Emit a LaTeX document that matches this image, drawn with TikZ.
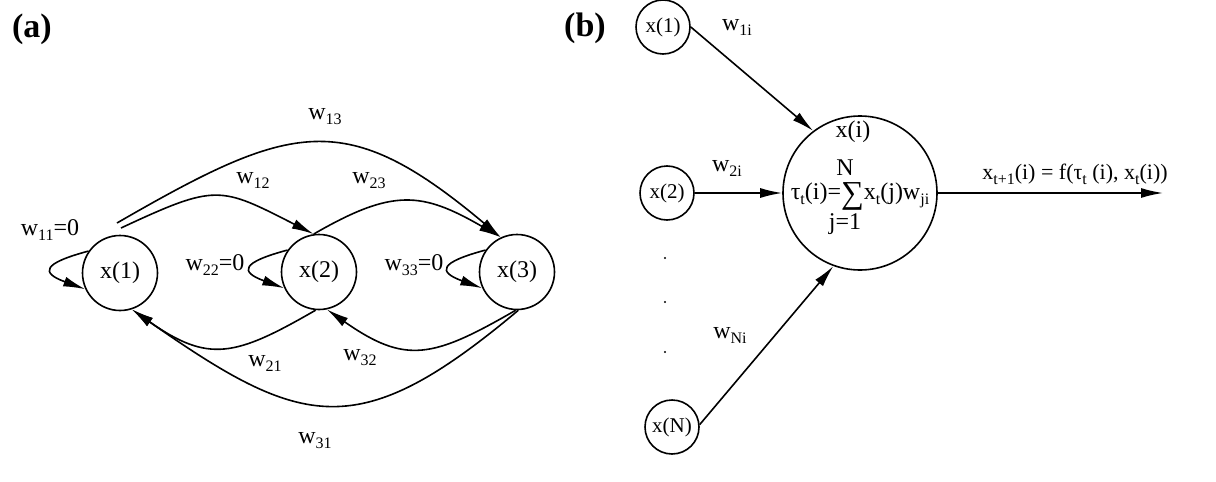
\documentclass[12pt,tikz,border=0pt]{standalone}
\usepackage{fontspec}
\setmainfont{Liberation Serif}
\usetikzlibrary{arrows.meta}
\newcommand{\lowsub}[1]{\raisebox{-2.5pt}{\scriptsize #1}}
\newcommand{\wlab}[1]{w\lowsub{#1}}

\begin{document}
\begin{tikzpicture}[x=0.5pt,y=0.5pt]
\tikzset{every node/.style={font=\fontsize{12}{14}\selectfont},
  unit/.style={draw, circle, line width=0.8pt, minimum size=37.5pt, inner sep=0pt},
  inunit/.style={draw, circle, line width=0.8pt, minimum size=27pt, inner sep=0pt,
    font=\fontsize{10.5}{12}\selectfont},
  bigunit/.style={draw, circle, line width=0.8pt, minimum size=77pt, inner sep=0pt},
  wire/.style={line width=0.8pt, -{Latex[length=11pt,width=5pt]}},
  panel/.style={font=\fontsize{17}{19}\selectfont\bfseries}}
\useasboundingbox (0,0) rectangle (1216,-482);
% (a) fully connected net
\node[panel] (pa) at (32,-29) {(a)};
\node[unit] (n1) at (120,-273) {x(1)};
\node[unit] (n2) at (319,-272) {x(2)};
\node[unit] (n3) at (517,-272) {x(3)};
\coordinate (s13) at (117,-223);
\coordinate (s12) at (121,-228);
\draw[wire] (s13) to[out=30,in=140,looseness=1.35] (n3.115);
\draw[wire] (s12) to[out=25,in=153,looseness=1.4] (n2.98);
\draw[wire] (n2.98) to[out=30,in=150,looseness=1.25] (n3.115);
\draw[wire] (n2.265) to[out=210,in=-35,looseness=1.3] (n1.-72);
\draw[wire] (n3.268) to[out=210,in=-35,looseness=1.3] (n2.-78);
\draw[wire] (n3.272) to[out=220,in=-35,looseness=1.38] (n1.-72);
\foreach \n in {n1,n2,n3}
  \draw[wire] (\n.145) .. controls +(195:48) and +(160:48) .. (\n.205);
\node (w11) at (50,-230) {\wlab{11}=0};
\node (w22) at (215,-265) {\wlab{22}=0};
\node (w33) at (414,-265) {\wlab{33}=0};
\node (w12) at (253,-180) {\wlab{12}};
\node (w13) at (325,-117) {\wlab{13}};
\node (w23) at (369,-181) {\wlab{23}};
\node (w21) at (265,-363) {\wlab{21}};
\node (w32) at (360,-358) {\wlab{32}};
\node (w31) at (315,-441) {\wlab{31}};
% (b) single unit
\node[panel] (pb) at (585,-28) {(b)};
\node[inunit] (i1) at (663,-27) {x(1)};
\node[inunit] (i2) at (667,-193) {x(2)};
\node[inunit] (iN) at (672,-427) {x(N)};
\node[bigunit] (xi) at (860,-193) {};
\node (xil) at (853,-132) {x(i)};
\node (ntop) at (845,-168) {N};
\node (tau) at (860,-196) {τ\lowsub{t}(i)=\raisebox{-2pt}{\fontsize{16}{16}\selectfont ∑}x\lowsub{t}(j)w\lowsub{ji}};
\node (jbot) at (845,-224) {j=1};
\coordinate (out) at (1163,-193);
\draw[wire] (i1.east) -- (xi.127);
\draw[wire] (i2) -- (xi);
\draw[wire] (iN.5) -- (xi.250);
\draw[wire] (xi) -- (out);
\node (w1i) at (737,-27) {\wlab{1i}};
\node (w2i) at (727,-168) {\wlab{2i}};
\node (wNi) at (730,-335) {\wlab{Ni}};
\node[font=\fontsize{11}{13}\selectfont] (fout) at (1075,-174)
  {x\lowsub{t+1}(i) = f(τ\lowsub{t} (i), x\lowsub{t}(i))};
\foreach \y in {258,302,352}
  \fill (665,-\y) circle (0.6pt);
\end{tikzpicture}
\end{document}
